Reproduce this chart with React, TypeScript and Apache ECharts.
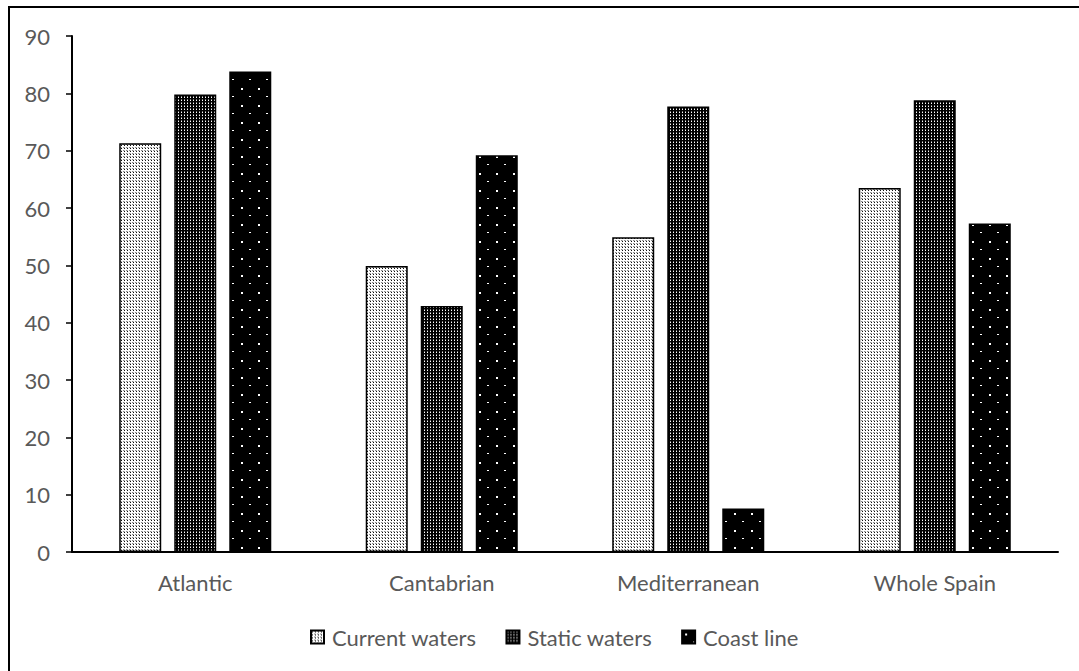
import React, { useEffect, useRef } from "react";
import * as echarts from "echarts";

const categories = ["Atlantic", "Cantabrian", "Mediterranean", "Whole Spain"];
const seriesNames = ["Current waters", "Static waters", "Coast line"];
const currentWaters = [71.3, 49.9, 54.9, 63.5];
const staticWaters = [79.8, 42.9, 77.7, 78.8];
const coastLine = [83.8, 69.2, 7.6, 57.3];
const yTicks = { min: 0, max: 90, interval: 10 };

const FONT = "Lato, 'Open Sans', sans-serif";
const TEXT_COLOR = "#595959";
const FONT_SIZE = 22;

// Small raster tiles used as fill patterns for the bars
function makeTile(
  w: number,
  h: number,
  bg: string,
  dots: Array<[number, number, number, number, string]>
): HTMLCanvasElement {
  const c = document.createElement("canvas");
  c.width = w;
  c.height = h;
  const ctx = c.getContext("2d")!;
  ctx.fillStyle = bg;
  ctx.fillRect(0, 0, w, h);
  for (const [x, y, dw, dh, col] of dots) {
    ctx.fillStyle = col;
    ctx.fillRect(x, y, dw, dh);
  }
  return c;
}

export default function App() {
  const ref = useRef<HTMLDivElement>(null);

  useEffect(() => {
    if (!ref.current) return;
    const chart = echarts.init(ref.current, undefined, { renderer: "svg" });

    const lightTile = makeTile(3, 3, "#ffffff", [
      [1, 1, 1, 1, "#111111"],
      [0, 0, 1, 1, "#888888"],
      [1, 0, 1, 1, "#bbbbbb"],
    ]);
    const darkTile = makeTile(3, 3, "#000000", [
      [1, 1, 1, 1, "#ffffff"],
      [1, 0, 1, 1, "#777777"],
    ]);
    const sparseTile = makeTile(17, 17, "#000000", [
      [3, 3, 2, 2, "#ffffff"],
      [11, 11, 2, 1, "#ffffff"],
    ]);

    const fills = [lightTile, darkTile, sparseTile].map((image) => ({
      image,
      repeat: "repeat" as const,
    }));
    const values = [currentWaters, staticWaters, coastLine];

    chart.setOption({
      animation: false,
      backgroundColor: "#ffffff",
      textStyle: { fontFamily: FONT },
      graphic: [
        {
          type: "rect",
          shape: { x: 9, y: 7, width: 1200, height: 800 },
          style: { fill: "none", stroke: "#000000", lineWidth: 2 },
          silent: true,
        },
      ],
      grid: { left: 72, right: 21, top: 36, bottom: 119 },
      legend: {
        left: 305,
        top: 621,
        itemWidth: 13,
        itemHeight: 13,
        itemGap: 29,
        icon: "rect",
        textStyle: {
          color: TEXT_COLOR,
          fontSize: FONT_SIZE,
          fontFamily: FONT,
          padding: [0, 0, 0, 3],
        },
        data: seriesNames,
      },
      xAxis: {
        type: "category",
        data: categories,
        axisLine: { lineStyle: { color: "#000000", width: 2 } },
        axisTick: { show: false },
        axisLabel: {
          color: TEXT_COLOR,
          fontSize: FONT_SIZE,
          fontFamily: FONT,
          margin: 19,
        },
      },
      yAxis: {
        type: "value",
        min: yTicks.min,
        max: yTicks.max,
        interval: yTicks.interval,
        axisLine: { show: true, lineStyle: { color: "#000000", width: 2 } },
        axisTick: {
          show: true,
          length: 6,
          lineStyle: { color: "#000000", width: 1.5 },
        },
        splitLine: { show: false },
        axisLabel: {
          color: TEXT_COLOR,
          fontSize: FONT_SIZE,
          fontFamily: FONT,
          margin: 22,
        },
      },
      series: seriesNames.map((name, i) => ({
        name,
        type: "bar",
        data: values[i],
        barWidth: 42,
        barGap: "31%",
        itemStyle: {
          color: fills[i],
          borderColor: "#000000",
          borderWidth: 1.5,
        },
      })),
    });

    return () => chart.dispose();
  }, []);

  return (
    <div
      ref={ref}
      style={{
        position: "fixed",
        left: 0,
        top: 0,
        width: 1079,
        height: 671,
        background: "#ffffff",
      }}
    />
  );
}
